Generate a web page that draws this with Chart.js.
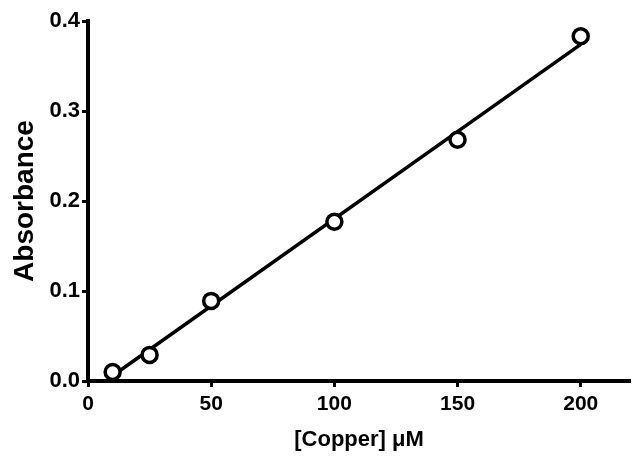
<!DOCTYPE html>
<html>
<head>
    <meta charset="UTF-8">
    <title>Copper calibration</title>
    <style>
        html, body { margin: 0; padding: 0; background: #fff; }
        #wrap { width: 632px; height: 457px; }
    </style>
</head>
<body>
<script src="https://cdn.jsdelivr.net/npm/chart.js@4/dist/chart.umd.min.js"></script>
<div id="wrap"><canvas id="myChart" width="632" height="457"></canvas></div>

<script type="text/javascript">
    // measured standards
    var copper = [10, 25, 50, 100, 150, 200];
    var absorbance = [0.010, 0.029, 0.089, 0.177, 0.268, 0.383];

    // fitted line, end points
    var fitX = [8, 200];
    var fitY = [0.002, 0.374];

    var xTicks = [0, 50, 100, 150, 200];
    var yTicks = [0.0, 0.1, 0.2, 0.3, 0.4];

    var font = "'Liberation Sans', Arial, sans-serif";

    var toXY = function(xs, ys) {
        return xs.map(function(x, i) { return {x: x, y: ys[i]}; });
    };

    var ctx = document.getElementById('myChart').getContext('2d');
    var myChart = new Chart(ctx, {
        type: 'scatter',
        data: {
            datasets: [{
                label: 'Absorbance',
                data: toXY(copper, absorbance),
                pointRadius: 7.5,
                pointHoverRadius: 7.5,
                pointBorderWidth: 3.5,
                borderColor: '#000',
                backgroundColor: '#fff',
                clip: false,
                order: 0
            }, {
                type: 'line',
                label: 'Fit',
                data: toXY(fitX, fitY),
                borderColor: '#000',
                borderWidth: 3.5,
                pointRadius: 0,
                fill: false,
                clip: false,
                order: 1
            }]
        },
        options: {
            responsive: false,
            animation: false,
            layout: { autoPadding: false, padding: { left: 0, right: 2, top: 21, bottom: 0 } },
            plugins: {
                legend: { display: false },
                tooltip: { enabled: false }
            },
            scales: {
                x: {
                    type: 'linear',
                    min: 0,
                    max: 220,
                    afterBuildTicks: function(scale) {
                        scale.ticks = xTicks.map(function(v) { return {value: v}; });
                    },
                    afterFit: function(scale) {
                        scale.height = 76;
                        scale.paddingLeft = 0;
                        scale.paddingRight = 0;
                    },
                    border: { display: true, color: '#000', width: 4 },
                    grid: {
                        drawOnChartArea: false,
                        drawTicks: true,
                        tickLength: 6,
                        tickWidth: 3,
                        tickColor: '#000'
                    },
                    ticks: {
                        color: '#000',
                        padding: 5,
                        maxRotation: 0,
                        font: { family: font, size: 21, weight: 'bold' }
                    },
                    title: {
                        display: true,
                        text: '[Copper] \u03bcM',
                        color: '#000',
                        padding: { top: 0, bottom: 4 },
                        font: { family: font, size: 22, weight: 'bold', lineHeight: 1.2 }
                    }
                },
                y: {
                    min: 0,
                    max: 0.4,
                    afterBuildTicks: function(scale) {
                        scale.ticks = yTicks.map(function(v) { return {value: v}; });
                    },
                    afterFit: function(scale) {
                        scale.width = 88;
                        scale.paddingTop = 0;
                        scale.paddingBottom = 0;
                    },
                    border: { display: true, color: '#000', width: 4 },
                    grid: {
                        drawOnChartArea: false,
                        drawTicks: true,
                        tickLength: 6,
                        tickWidth: 3,
                        tickColor: '#000'
                    },
                    ticks: {
                        color: '#000',
                        padding: 2,
                        font: { family: font, size: 22, weight: 'bold' },
                        callback: function(v) { return Number(v).toFixed(1); }
                    },
                    title: {
                        display: true,
                        text: 'Absorbance',
                        color: '#000',
                        padding: { top: 8, bottom: 0 },
                        font: { family: font, size: 28, weight: 'bold', lineHeight: 1.2 }
                    }
                }
            }
        }
    });
</script>
</body>
</html>
